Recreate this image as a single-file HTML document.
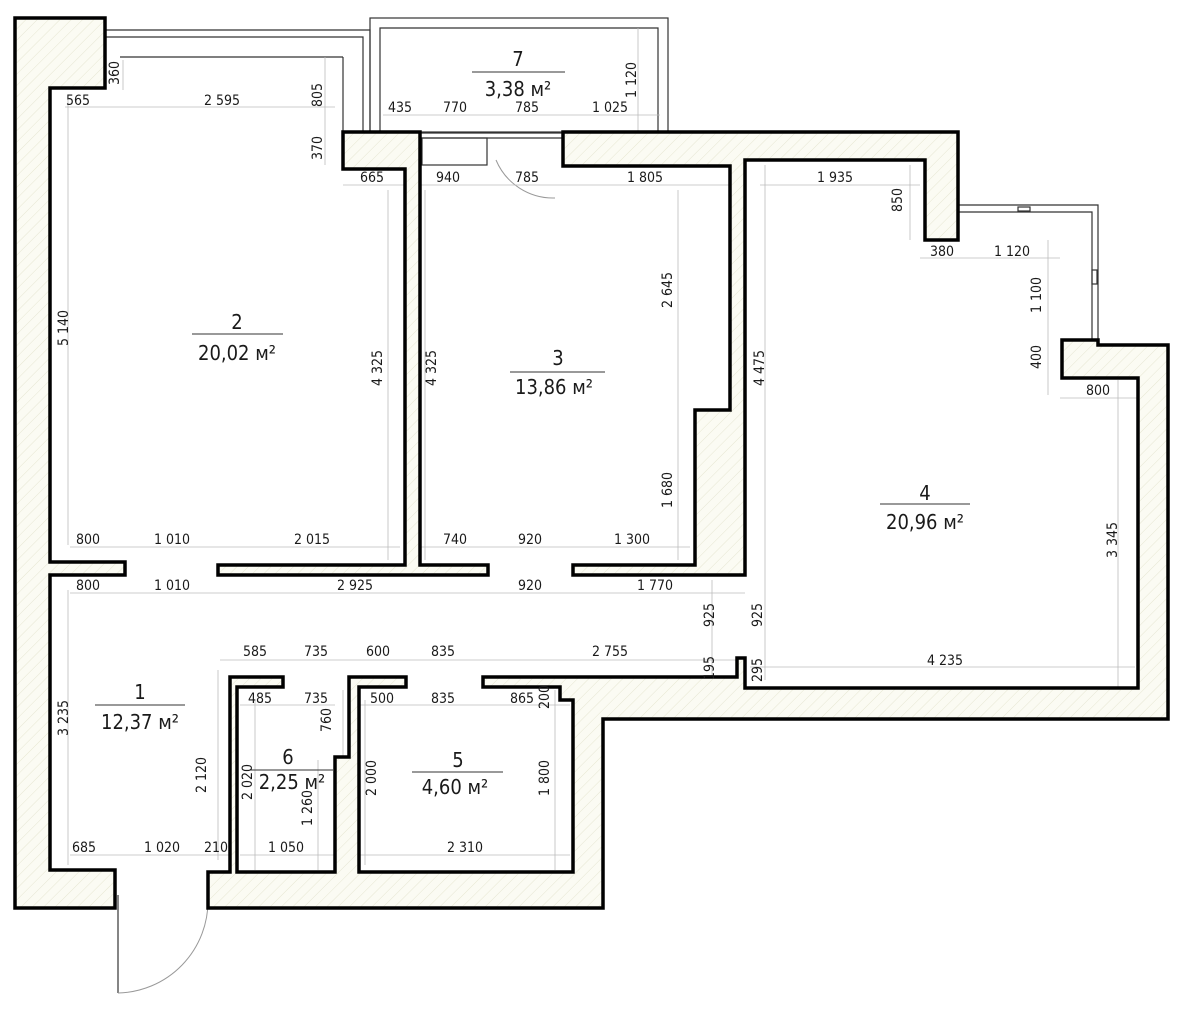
<!DOCTYPE html>
<html><head><meta charset="utf-8">
<style>
html,body{margin:0;padding:0;background:#fff;}
svg{display:block;}
text{font-family:"DejaVu Sans Condensed","Liberation Sans Narrow","Liberation Sans",sans-serif;fill:#1a1a1a;}
.d{font-size:14px;text-anchor:middle;}
.r{font-size:20px;text-anchor:middle;}
.w{fill:url(#h);stroke:#000;stroke-width:3.5;stroke-linejoin:miter;}
.t{stroke:#bbb;stroke-width:0.8;fill:none;}
.f{stroke:#333;stroke-width:1.2;fill:none;}
</style></head><body>
<svg width="1200" height="1009" viewBox="0 0 1200 1009" xmlns="http://www.w3.org/2000/svg">
<defs>
<pattern id="h" width="8" height="8" patternUnits="userSpaceOnUse" patternTransform="rotate(45)">
<rect width="8" height="8" fill="#fbfbf3"/>
<line x1="0" y1="0" x2="0" y2="8" stroke="#e6e6d2" stroke-width="1"/>
</pattern>
</defs>

<g class="f">
<rect x="370" y="18" width="298" height="114"/>
<polyline points="380,132 380,28 658,28 658,132"/>
<polyline points="105,30 370,30 370,132"/>
<polyline points="105,37 363,37 363,132"/>
<line x1="120" y1="57" x2="343" y2="57"/>
<line x1="343" y1="57" x2="343" y2="132"/>
<line x1="420" y1="133" x2="563" y2="133"/>
<line x1="420" y1="138" x2="563" y2="138"/>
<rect x="422" y="138" width="65" height="27"/>
<polyline points="958,205 1098,205 1098,340"/>
<polyline points="958,212 1092,212 1092,340"/>
<line x1="118" y1="895" x2="118" y2="993"/>
<rect x="1018" y="207" width="12" height="4"/>
<rect x="1092" y="270" width="5" height="14"/>
</g>
<path d="M496,160 A62,62 0 0 0 555,198" fill="none" stroke="#999" stroke-width="1"/>
<path d="M208,900 A92,92 0 0 1 118,993" fill="none" stroke="#999" stroke-width="1"/>

<g class="t">
<line x1="65" y1="107" x2="335" y2="107"/>
<line x1="383" y1="115" x2="660" y2="115"/>
<line x1="343" y1="185" x2="740" y2="185"/>
<line x1="760" y1="185" x2="920" y2="185"/>
<line x1="920" y1="258" x2="1060" y2="258"/>
<line x1="1060" y1="398" x2="1138" y2="398"/>
<line x1="70" y1="547" x2="400" y2="547"/>
<line x1="420" y1="547" x2="690" y2="547"/>
<line x1="70" y1="593" x2="745" y2="593"/>
<line x1="220" y1="660" x2="740" y2="660"/>
<line x1="750" y1="667" x2="1135" y2="667"/>
<line x1="240" y1="705" x2="335" y2="705"/>
<line x1="360" y1="705" x2="570" y2="705"/>
<line x1="70" y1="855" x2="230" y2="855"/>
<line x1="240" y1="855" x2="335" y2="855"/>
<line x1="360" y1="855" x2="570" y2="855"/>
<line x1="68" y1="100" x2="68" y2="545"/>
<line x1="68" y1="590" x2="68" y2="865"/>
<line x1="123" y1="60" x2="123" y2="90"/>
<line x1="325" y1="57" x2="325" y2="165"/>
<line x1="388" y1="190" x2="388" y2="560"/>
<line x1="425" y1="190" x2="425" y2="560"/>
<line x1="678" y1="190" x2="678" y2="560"/>
<line x1="638" y1="28" x2="638" y2="132"/>
<line x1="765" y1="165" x2="765" y2="680"/>
<line x1="910" y1="165" x2="910" y2="240"/>
<line x1="1048" y1="240" x2="1048" y2="395"/>
<line x1="1118" y1="380" x2="1118" y2="690"/>
<line x1="712" y1="580" x2="712" y2="680"/>
<line x1="218" y1="670" x2="218" y2="860"/>
<line x1="255" y1="700" x2="255" y2="870"/>
<line x1="343" y1="690" x2="343" y2="757"/>
<line x1="318" y1="760" x2="318" y2="870"/>
<line x1="365" y1="700" x2="365" y2="865"/>
<line x1="555" y1="690" x2="555" y2="870"/>
</g>

<polygon class="w" points="15,18 105,18 105,88 50,88 50,562 125,562 125,575 50,575 50,870 115,870 115,908 15,908"/>
<polygon class="w" points="343,132 420,132 420,565 488,565 488,575 218,575 218,565 405,565 405,169 343,169"/>
<polygon class="w" points="563,132 958,132 958,208 958,240 925,240 925,160 745,160 745,575 573,575 573,565 695,565 695,410 730,410 730,166 563,166"/>
<polygon class="w" points="737,677 737,658 745,658 745,688 1138,688 1138,378 1062,378 1062,340 1098,340 1098,345 1168,345 1168,719 603,719 603,908 208,908 208,872 230,872 230,677 283,677 283,687 237,687 237,872 335,872 335,757 349,757 349,677 406,677 406,687 359,687 359,872 573,872 573,700 560,700 560,687 483,687 483,677"/>

<g>
<text class="r" x="237" y="329">2</text><line x1="192" y1="334" x2="283" y2="334" stroke="#333"/>
<text class="r" x="237" y="360">20,02 м²</text>
<text class="r" x="558" y="365">3</text><line x1="510" y1="372" x2="605" y2="372" stroke="#333"/>
<text class="r" x="554" y="394">13,86 м²</text>
<text class="r" x="925" y="500">4</text><line x1="880" y1="504" x2="970" y2="504" stroke="#333"/>
<text class="r" x="925" y="529">20,96 м²</text>
<text class="r" x="140" y="699">1</text><line x1="95" y1="705" x2="185" y2="705" stroke="#333"/>
<text class="r" x="140" y="729">12,37 м²</text>
<text class="r" x="288" y="764">6</text><line x1="250" y1="770" x2="333" y2="770" stroke="#333"/>
<text class="r" x="292" y="789">2,25 м²</text>
<text class="r" x="458" y="767">5</text><line x1="412" y1="772" x2="503" y2="772" stroke="#333"/>
<text class="r" x="455" y="794">4,60 м²</text>
<text class="r" x="518" y="66">7</text><line x1="472" y1="72" x2="565" y2="72" stroke="#333"/>
<text class="r" x="518" y="96">3,38 м²</text>
</g>

<g class="d">
<text x="78" y="105">565</text><text x="222" y="105">2 595</text>
<text x="400" y="112">435</text><text x="455" y="112">770</text><text x="527" y="112">785</text><text x="610" y="112">1 025</text>
<text x="372" y="182">665</text><text x="448" y="182">940</text><text x="527" y="182">785</text><text x="645" y="182">1 805</text><text x="835" y="182">1 935</text>
<text x="942" y="256">380</text><text x="1012" y="256">1 120</text><text x="1098" y="395">800</text>
<text x="88" y="544">800</text><text x="172" y="544">1 010</text><text x="312" y="544">2 015</text><text x="455" y="544">740</text><text x="530" y="544">920</text><text x="632" y="544">1 300</text>
<text x="88" y="590">800</text><text x="172" y="590">1 010</text><text x="355" y="590">2 925</text><text x="530" y="590">920</text><text x="655" y="590">1 770</text>
<text x="255" y="656">585</text><text x="316" y="656">735</text><text x="378" y="656">600</text><text x="443" y="656">835</text><text x="610" y="656">2 755</text><text x="945" y="665">4 235</text>
<text x="260" y="703">485</text><text x="316" y="703">735</text><text x="382" y="703">500</text><text x="443" y="703">835</text><text x="522" y="703">865</text>
<text x="84" y="852">685</text><text x="162" y="852">1 020</text><text x="216" y="852">210</text><text x="286" y="852">1 050</text><text x="465" y="852">2 310</text>
</g>
<g class="d">
<text transform="translate(119,73) rotate(-90)">360</text>
<text transform="translate(322,95) rotate(-90)">805</text>
<text transform="translate(322,148) rotate(-90)">370</text>
<text transform="translate(636,80) rotate(-90)">1 120</text>
<text transform="translate(902,200) rotate(-90)">850</text>
<text transform="translate(672,290) rotate(-90)">2 645</text>
<text transform="translate(1041,295) rotate(-90)">1 100</text>
<text transform="translate(1041,357) rotate(-90)">400</text>
<text transform="translate(68,328) rotate(-90)">5 140</text>
<text transform="translate(382,368) rotate(-90)">4 325</text>
<text transform="translate(436,368) rotate(-90)">4 325</text>
<text transform="translate(764,368) rotate(-90)">4 475</text>
<text transform="translate(672,490) rotate(-90)">1 680</text>
<text transform="translate(1117,540) rotate(-90)">3 345</text>
<text transform="translate(714,615) rotate(-90)">925</text>
<text transform="translate(762,615) rotate(-90)">925</text>
<text transform="translate(714,668) rotate(-90)">195</text>
<text transform="translate(762,670) rotate(-90)">295</text>
<text transform="translate(68,718) rotate(-90)">3 235</text>
<text transform="translate(206,775) rotate(-90)">2 120</text>
<text transform="translate(252,782) rotate(-90)">2 020</text>
<text transform="translate(331,720) rotate(-90)">760</text>
<text transform="translate(312,808) rotate(-90)">1 260</text>
<text transform="translate(376,778) rotate(-90)">2 000</text>
<text transform="translate(549,778) rotate(-90)">1 800</text>
<text transform="translate(549,697) rotate(-90)">200</text>
</g>
</svg>
</body></html>
